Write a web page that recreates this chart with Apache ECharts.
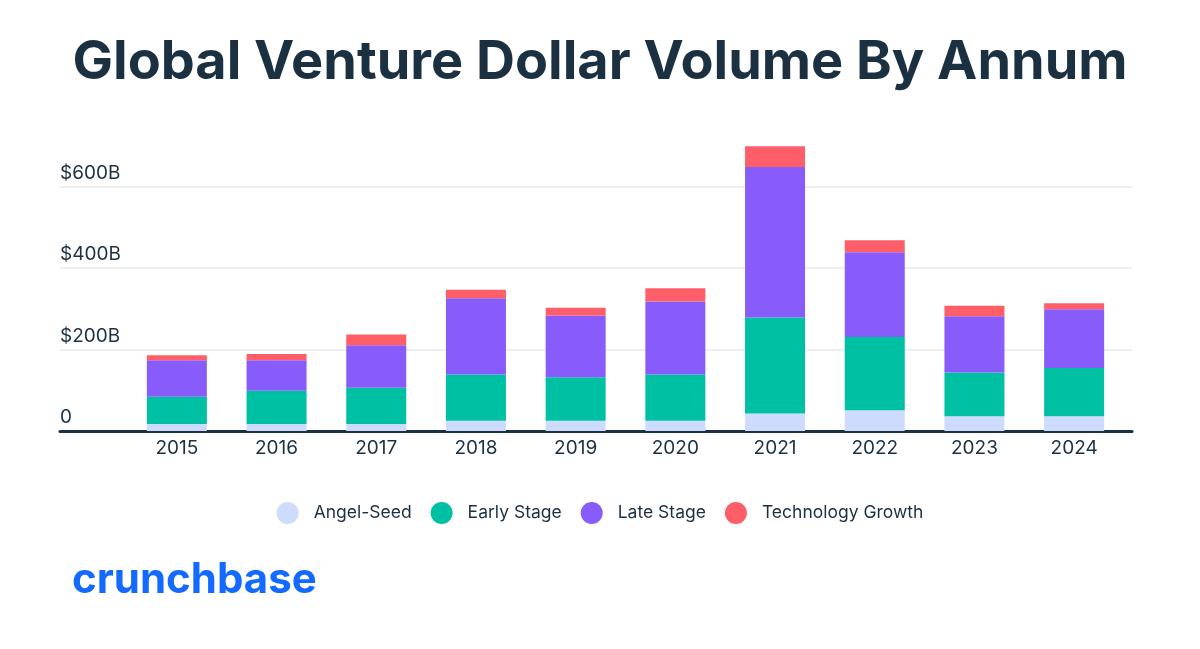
<!DOCTYPE html>
<html>
<head>
<meta charset="utf-8">
<title>Global Venture Dollar Volume By Annum</title>
<script src="https://cdn.jsdelivr.net/npm/echarts@6/dist/echarts.min.js"></script>
<style>
  html, body { margin: 0; padding: 0; background: #fff; }
  #main-chart { width: 1200px; height: 649px; }
</style>
</head>
<body>
<div id="main-chart"></div>
<script>
// values in $B
var years = ['2015', '2016', '2017', '2018', '2019', '2020', '2021', '2022', '2023', '2024'];
var angelSeed = [17, 17, 17, 25, 25, 25, 43, 51, 36, 36];
var earlyStage = [67, 82, 89, 114, 107, 114, 236, 180, 108, 119];
var lateStage = [90, 75, 105, 187, 152, 179, 370, 208, 138, 144];
var techGrowth = [12, 15, 26, 21, 19, 33, 51, 30, 26, 15];

var seriesNames = ['Angel-Seed', 'Early Stage', 'Late Stage', 'Technology Growth'];
var seriesColors = ['#cddcfc', '#00c0a3', '#875cfb', '#fe5e68'];

var textColor = '#1b3142';
var fontFamily = 'Inter, Lato, sans-serif';
var mainChart;

window.onload = function () {
    chartInit();
}

function barSeries(idx, values) {
    return {
        name: seriesNames[idx],
        type: 'bar',
        stack: 'total',
        xAxisIndex: 1,
        yAxisIndex: 1,
        barWidth: 60,
        itemStyle: { color: seriesColors[idx] },
        emphasis: { disabled: true },
        data: values
    };
}

function chartInit() {
    mainChart = echarts.init(document.getElementById('main-chart'));

    var yCommon = {
        type: 'value',
        min: 0,
        max: 720,
        interval: 200
    };

    var mainOpt = {
        backgroundColor: '#fff',
        animation: false,
        title: {
            text: 'Global Venture Dollar Volume By Annum',
            left: 'center',
            top: 31,
            textStyle: {
                color: textColor,
                fontFamily: fontFamily,
                fontWeight: 700,
                fontSize: 54
            }
        },
        legend: {
            top: 497,
            left: 'center',
            icon: 'circle',
            itemWidth: 22,
            itemHeight: 22,
            itemGap: 19,
            selectedMode: false,
            data: seriesNames,
            textStyle: {
                color: textColor,
                fontFamily: fontFamily,
                fontSize: 17.5,
                padding: [0, 0, 0, 10]
            }
        },
        grid: [
            { left: 60, right: 68, top: 138, bottom: 218 },
            { left: 127, right: 76, top: 138, bottom: 218 }
        ],
        xAxis: [{
            type: 'category',
            gridIndex: 0,
            data: [''],
            axisLine: { show: true, lineStyle: { color: textColor, width: 3 } },
            axisTick: { show: false },
            axisLabel: { show: false }
        }, {
            type: 'category',
            gridIndex: 1,
            data: years,
            axisLine: { show: false },
            axisTick: { show: false },
            axisLabel: {
                color: textColor,
                fontFamily: fontFamily,
                fontSize: 19,
                margin: 8
            }
        }],
        yAxis: [Object.assign({}, yCommon, {
            gridIndex: 0,
            axisLine: { show: false },
            axisTick: { show: false },
            splitLine: {
                show: true,
                showMaxLine: false,
                lineStyle: { color: '#e9e9ec', width: 1.5 }
            },
            axisLabel: {
                inside: true,
                showMaxLabel: false,
                align: 'left',
                verticalAlign: 'bottom',
                padding: [0, 0, 4, 0],
                margin: 0,
                color: textColor,
                fontFamily: fontFamily,
                fontSize: 19,
                formatter: function (value) {
                    return value === 0 ? '0' : '$' + value + 'B';
                }
            }
        }), Object.assign({}, yCommon, {
            gridIndex: 1,
            show: false,
            splitLine: { show: false }
        })],
        series: [
            barSeries(0, angelSeed),
            barSeries(1, earlyStage),
            barSeries(2, lateStage),
            barSeries(3, techGrowth)
        ],
        graphic: [{
            type: 'text',
            left: 72,
            top: 559,
            style: {
                text: 'crunchbase',
                fill: '#146aff',
                font: '700 42px ' + fontFamily
            }
        }]
    };

    mainChart.setOption(mainOpt);
}
</script>
</body>
</html>
